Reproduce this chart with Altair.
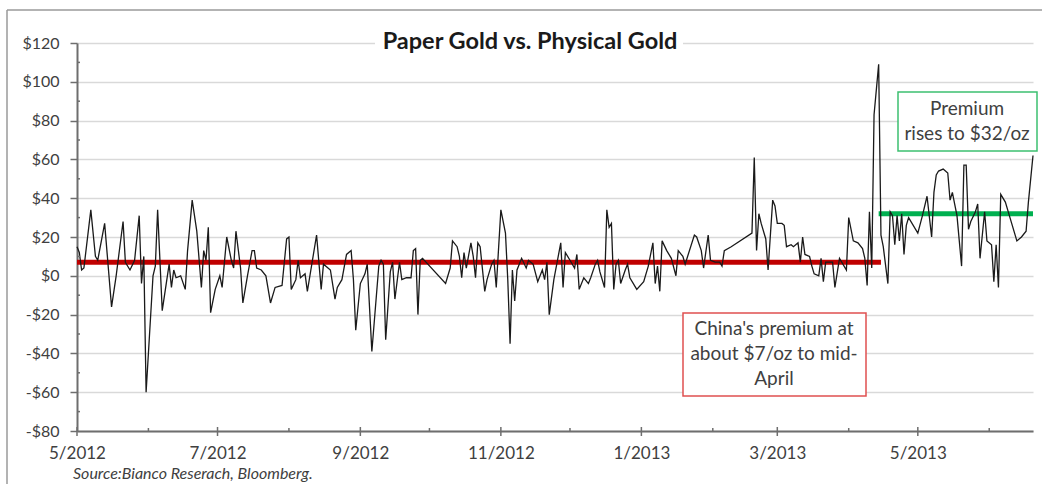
import altair as alt
import pandas as pd

# Daily premium of physical gold in China over paper gold (US$/oz)
dates = [
    "2012-05-01", "2012-05-02", "2012-05-03", "2012-05-04", "2012-05-07", "2012-05-09", "2012-05-10",
    "2012-05-13", "2012-05-16", "2012-05-18", "2012-05-21", "2012-05-22", "2012-05-24", "2012-05-26",
    "2012-05-28", "2012-05-29", "2012-05-30", "2012-05-31", "2012-06-03", "2012-06-04", "2012-06-05",
    "2012-06-07", "2012-06-10", "2012-06-11", "2012-06-12", "2012-06-13", "2012-06-15", "2012-06-17",
    "2012-06-18", "2012-06-20", "2012-06-22", "2012-06-24", "2012-06-25", "2012-06-26", "2012-06-27",
    "2012-06-28", "2012-06-30", "2012-07-02", "2012-07-03", "2012-07-05", "2012-07-07", "2012-07-08",
    "2012-07-09", "2012-07-11", "2012-07-12", "2012-07-14", "2012-07-16", "2012-07-17", "2012-07-18",
    "2012-07-20", "2012-07-22", "2012-07-24", "2012-07-26", "2012-07-29", "2012-07-31", "2012-08-01",
    "2012-08-02", "2012-08-04", "2012-08-05", "2012-08-06", "2012-08-08", "2012-08-09", "2012-08-13",
    "2012-08-15", "2012-08-16", "2012-08-19", "2012-08-21", "2012-08-22", "2012-08-24", "2012-08-26",
    "2012-08-28", "2012-08-29", "2012-08-30", "2012-09-01", "2012-09-03", "2012-09-04", "2012-09-06",
    "2012-09-09", "2012-09-10", "2012-09-11", "2012-09-12", "2012-09-14", "2012-09-15", "2012-09-16",
    "2012-09-18", "2012-09-19", "2012-09-21", "2012-09-23", "2012-09-24", "2012-09-25", "2012-09-26",
    "2012-09-27", "2012-09-28", "2012-10-08", "2012-10-10", "2012-10-11", "2012-10-13", "2012-10-14",
    "2012-10-15", "2012-10-16", "2012-10-17", "2012-10-19", "2012-10-20", "2012-10-21", "2012-10-22",
    "2012-10-23", "2012-10-25", "2012-10-26", "2012-10-28", "2012-10-29", "2012-10-30", "2012-11-01",
    "2012-11-03", "2012-11-04", "2012-11-05", "2012-11-06", "2012-11-07", "2012-11-08", "2012-11-10",
    "2012-11-12", "2012-11-13", "2012-11-15", "2012-11-17", "2012-11-19", "2012-11-20", "2012-11-21",
    "2012-11-22", "2012-11-24", "2012-11-27", "2012-11-28", "2012-11-29", "2012-12-01", "2012-12-03",
    "2012-12-04", "2012-12-05", "2012-12-07", "2012-12-09", "2012-12-10", "2012-12-12", "2012-12-13",
    "2012-12-14", "2012-12-16", "2012-12-17", "2012-12-18", "2012-12-19", "2012-12-20", "2012-12-21",
    "2012-12-22", "2012-12-23", "2012-12-25", "2012-12-26", "2012-12-27", "2012-12-30", "2013-01-02",
    "2013-01-04", "2013-01-06", "2013-01-07", "2013-01-08", "2013-01-09", "2013-01-10", "2013-01-12",
    "2013-01-14", "2013-01-16", "2013-01-17", "2013-01-19", "2013-01-20", "2013-01-24", "2013-01-25",
    "2013-01-27", "2013-01-28", "2013-01-30", "2013-01-31", "2013-02-02", "2013-02-04", "2013-02-05",
    "2013-02-06", "2013-02-09", "2013-02-18", "2013-02-19", "2013-02-20", "2013-02-21", "2013-02-22",
    "2013-02-24", "2013-02-25", "2013-02-27", "2013-02-28", "2013-03-01", "2013-03-03", "2013-03-04",
    "2013-03-05", "2013-03-07", "2013-03-08", "2013-03-10", "2013-03-11", "2013-03-12", "2013-03-13",
    "2013-03-15", "2013-03-16", "2013-03-17", "2013-03-19", "2013-03-20", "2013-03-21", "2013-03-22",
    "2013-03-24", "2013-03-25", "2013-03-26", "2013-03-28", "2013-03-31", "2013-04-01", "2013-04-03",
    "2013-04-05", "2013-04-07", "2013-04-08", "2013-04-09", "2013-04-10", "2013-04-11", "2013-04-12",
    "2013-04-14", "2013-04-15", "2013-04-16", "2013-04-18", "2013-04-19", "2013-04-20", "2013-04-21",
    "2013-04-22", "2013-04-23", "2013-04-24", "2013-04-25", "2013-04-26", "2013-04-27", "2013-05-01",
    "2013-05-03", "2013-05-05", "2013-05-07", "2013-05-08", "2013-05-09", "2013-05-10", "2013-05-12",
    "2013-05-13", "2013-05-14", "2013-05-15", "2013-05-16", "2013-05-17", "2013-05-18", "2013-05-19",
    "2013-05-20", "2013-05-21", "2013-05-22", "2013-05-23", "2013-05-24", "2013-05-26", "2013-05-27",
    "2013-05-28", "2013-05-30", "2013-05-31", "2013-06-02", "2013-06-03", "2013-06-04", "2013-06-05",
    "2013-06-06", "2013-06-08", "2013-06-10", "2013-06-13", "2013-06-15", "2013-06-17", "2013-06-18",
    "2013-06-20",
]
premium = [
    15, 12, 3, 4, 34, 10, 8,
    27, -16, 0, 28, 7, 3, 8,
    31, -4, 10, -60, 0, 5, 34,
    -18, 6, -6, 3, -1, 0, -7,
    13, 39, 23, -6, 13, 8, 25,
    -19, -7, 0, -6, 20, 8, 4,
    23, 4, -14, 0, 13, 13, 4,
    3, 0, -14, -6, -5, 19, 20,
    -7, -2, 8, -1, 1, -8, 21,
    -7, 6, 3, -12, -6, -2, 11,
    13, -2, -28, -4, 1, 6, -39,
    5, 8, 6, -33, 2, 7, -12,
    7, -2, -1, -1, 13, 14, -20,
    8, 9, -4, 4, 18, 15, 10,
    -1, 12, 4, 17, 10, -1, 17,
    15, -8, -2, 6, 8, -6, 34,
    22, -2, -35, 3, -13, 3, 9,
    4, 8, 6, -3, 3, -2, 7,
    -20, -2, 17, -6, 12, 8, 4,
    11, -7, -1, -4, -1, 6, 8,
    2, -6, 34, 25, 27, -7, 6,
    8, -4, 3, 6, -1, -7, -3,
    5, 17, -4, 5, -8, 18, 13,
    9, 0, 13, 10, 6, 21, 20,
    13, 4, 21, 8, 7, 7, 5,
    13, 15, 22, 61, 13, 32, 27,
    19, 3, 39, 36, 27, 27, 26,
    15, 16, 15, 17, 7, 20, 11,
    10, 5, 1, 0, 9, -3, 7,
    7, 7, -6, 9, 3, 30, 18,
    17, 14, 9, -5, 33, 4, 83,
    109, 21, 15, -4, 33, 31, 16,
    31, 18, 32, 11, 26, 30, 22,
    31, 41, 20, 43, 52, 54, 55,
    54, 53, 39, 43, 37, 31, 18,
    5, 57, 57, 24, 28, 33, 37,
    9, 33, 18, 16, -3, 16, -6,
    42, 38, 30, 18, 20, 23, 38,
    62,
]

# Average premium levels
level_labels = ["to mid-April", "after mid-April"]
level_start = ["2012-05-01", "2013-04-14"]
level_end = ["2013-04-15", "2013-06-20"]
level_value = [7, 32]
level_colors = ["#c00000", "#00b050"]

# Axis ticks
label_months = ["2012-05-01", "2012-07-01", "2012-09-01", "2012-11-01",
                "2013-01-01", "2013-03-01", "2013-05-01"]
minor_months = ["2012-06-01", "2012-08-01", "2012-10-01", "2012-12-01",
                "2013-02-01", "2013-04-01", "2013-06-01"]
y_major = [-80, -60, -40, -20, 0, 20, 40, 60, 80, 100, 120]
y_minor = [-70, -50, -30, -10, 10, 30, 50, 70, 90, 110]

W, H = 956, 388
AXIS_GREY = "#6e6e6e"
TEXT_GREY = "#404040"
FONT = "Lato"

df = pd.DataFrame({"date": dates, "premium": premium})
levels = pd.DataFrame({"label": level_labels, "start": level_start,
                       "end": level_end, "value": level_value, "color": level_colors})

x_scale = alt.Scale(type="utc",
                    domain=[alt.DateTime(year=2012, month=5, date=1, utc=True),
                            alt.DateTime(year=2013, month=6, date=20, utc=True)])
y_scale = alt.Scale(domain=[-80, 120], nice=False)

x_axis = alt.Axis(values=[alt.DateTime(year=int(d[:4]), month=int(d[5:7]), date=1, utc=True)
                          for d in label_months],
                  tickCount=len(label_months),
                  labelExpr="utcFormat(datum.value, '%-m/%Y')",
                  ticks=False, grid=False, domainColor=AXIS_GREY, domainWidth=2,
                  labelFont=FONT, labelFontSize=17, labelColor=TEXT_GREY,
                  labelPadding=14, labelFlush=False, labelOverlap=False)
y_axis = alt.Axis(values=y_major, tickCount=len(y_major),
                  labelExpr="datum.value < 0 ? '-$' + abs(datum.value) : '$' + datum.value",
                  grid=True, gridColor="#d9d9d9", gridWidth=1.5,
                  tickSize=7, tickColor=AXIS_GREY, tickWidth=1.5,
                  domainColor=AXIS_GREY, domainWidth=2,
                  labelFont=FONT, labelFontSize=16, labelColor=TEXT_GREY,
                  labelPadding=11, labelOverlap=False, labelFlush=False)

level_rules = alt.Chart(levels).mark_rule(strokeWidth=5).encode(
    x=alt.X("start:T", scale=x_scale, axis=x_axis, title=None),
    x2="end:T",
    y=alt.Y("value:Q", scale=y_scale, axis=y_axis, title=None),
    color=alt.Color("color:N", scale=None, legend=None),
)

line = alt.Chart(df).mark_line(color="#1a1a1a", strokeWidth=1.3).encode(
    x=alt.X("date:T", scale=x_scale, title=None),
    y=alt.Y("premium:Q", scale=y_scale, title=None),
)

major_ticks = alt.Chart(pd.DataFrame({"m": label_months})).mark_rule(
    color=AXIS_GREY, strokeWidth=1.5).encode(
    x=alt.X("m:T", scale=x_scale, title=None), y=alt.value(H - 4), y2=alt.value(H + 5))
minor_ticks = alt.Chart(pd.DataFrame({"m": minor_months})).mark_rule(
    color=AXIS_GREY, strokeWidth=1.5).encode(
    x=alt.X("m:T", scale=x_scale, title=None), y=alt.value(H - 3), y2=alt.value(H))
y_minor_ticks = alt.Chart(pd.DataFrame({"v": y_minor})).mark_rule(
    color=AXIS_GREY, strokeWidth=1.5).encode(
    y=alt.Y("v:Q", scale=y_scale, title=None), x=alt.value(0), x2=alt.value(3))

# Chart title sitting on the top gridline
title_df = pd.DataFrame({"t": ["Paper Gold vs. Physical Gold"]})
title_bg = alt.Chart(title_df).mark_rect(fill="white").encode(
    x=alt.value(298), x2=alt.value(606), y=alt.value(-8), y2=alt.value(8))
title_txt = alt.Chart(title_df).mark_text(
    font=FONT, fontSize=23.5, fontWeight="bold", color="#1a1a1a", baseline="middle").encode(
    x=alt.value(453), y=alt.value(-1), text="t:N")

# Annotation boxes
red_df = pd.DataFrame({"t": ["China's premium at\nabout $7/oz to mid-\nApril"]})
red_box = alt.Chart(red_df).mark_rect(fill="white", stroke="#e05050", strokeWidth=1.5).encode(
    x=alt.value(606), x2=alt.value(789), y=alt.value(270), y2=alt.value(353))
red_txt = alt.Chart(red_df).mark_text(
    font=FONT, fontSize=19, color=TEXT_GREY, lineBreak="\n", lineHeight=25,
    baseline="middle").encode(x=alt.value(697), y=alt.value(286), text="t:N")

green_df = pd.DataFrame({"t": ["Premium\nrises to $32/oz"]})
green_box = alt.Chart(green_df).mark_rect(fill="white", stroke="#3cc070", strokeWidth=1.5).encode(
    x=alt.value(821), x2=alt.value(960), y=alt.value(49), y2=alt.value(108))
green_txt = alt.Chart(green_df).mark_text(
    font=FONT, fontSize=19, color=TEXT_GREY, lineBreak="\n", lineHeight=25,
    baseline="middle").encode(x=alt.value(890), y=alt.value(66), text="t:N")

source_df = pd.DataFrame({"t": ["Source:Bianco Reserach, Bloomberg."]})
source_txt = alt.Chart(source_df).mark_text(
    font=FONT, fontSize=16, fontStyle="italic", color=TEXT_GREY, align="left",
    baseline="middle").encode(x=alt.value(-4), y=alt.value(431), text="t:N")

# Outer chart-area frame
frame_top = alt.Chart(pd.DataFrame({"k": ["top"]})).mark_rule(color="#9a9a9a", strokeWidth=1.5).encode(
    x=alt.value(-70), x2=alt.value(W + 9), y=alt.value(-33))
frame_left = alt.Chart(pd.DataFrame({"k": ["left"]})).mark_rule(color="#9a9a9a", strokeWidth=1.5).encode(
    x=alt.value(-70), y=alt.value(-33), y2=alt.value(H + 53))

chart = alt.layer(
    level_rules, line, major_ticks, minor_ticks, y_minor_ticks,
    title_bg, title_txt, red_box, red_txt, green_box, green_txt, source_txt,
    frame_top, frame_left,
).properties(
    width=W, height=H,
    autosize=alt.AutoSizeParams(type="none"),
    padding={"left": 77, "top": 43, "right": 9, "bottom": 53},
    background="white",
).configure_view(stroke=None)

chart.save("out.html", embed_options={"renderer": "svg", "actions": False})
